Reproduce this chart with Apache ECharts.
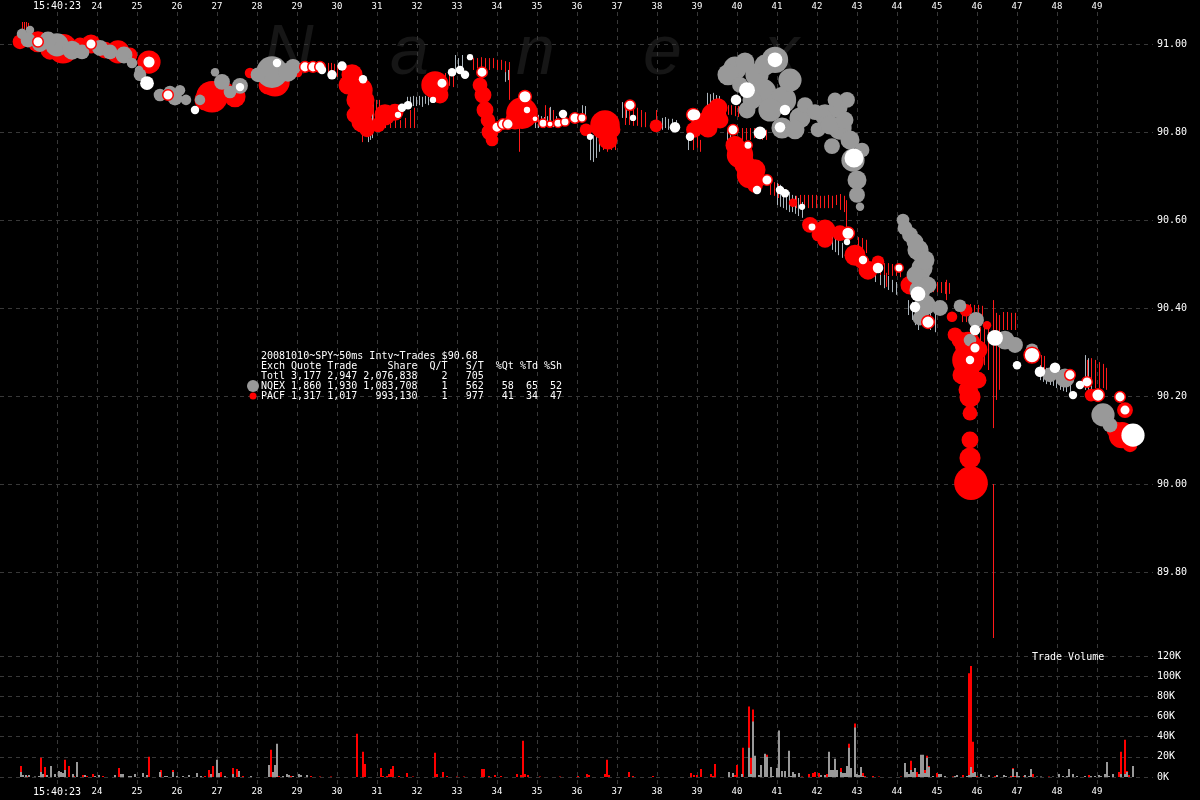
<!DOCTYPE html>
<html><head><meta charset="utf-8">
<script src="https://cdn.jsdelivr.net/npm/echarts@6/dist/echarts.min.js"></script>
<style>html,body{margin:0;padding:0;background:#000}#c{width:1200px;height:800px}</style>
</head><body><div id="c"></div>
<script>
// ---- DATA (time = seconds after 15:40:00, price in $, shares) ----
const timeTicks = [23,24,25,26,27,28,29,30,31,32,33,34,35,36,37,38,39,40,41,42,43,44,45,46,47,48,49];
const priceTicks = [89.80,90.00,90.20,90.40,90.60,90.80,91.00];
const volTicks = [0,20,40,60,80,100,120];
const legendLines = [
  "20081010~SPY~50ms Intv~Trades $90.68",
  "Exch Quote Trade     Share  Q/T   S/T  %Qt %Td %Sh",
  "Totl 3,177 2,947 2,076,838    2   705",
  "NQEX 1,860 1,930 1,083,708    1   562   58  65  52",
  "PACF 1,317 1,017   993,130    1   977   41  34  47"
];
// trades [time, price, shares]
const pacfTrades = [[22.075,91.005,9800],[22.525,91.005,20000],[23.150,90.989,39200],[23.850,91.000,16200],[24.525,90.982,24200],[25.300,90.959,24200],[26.875,90.880,45000],[27.450,90.880,20000],[27.825,90.934,5000],[28.450,90.914,39200],[29.025,90.934,3200],[30.375,90.930,20000],[30.575,90.895,28800],[30.625,90.850,24200],[30.625,90.823,20000],[31.200,90.839,20000],[31.450,90.845,12800],[31.025,90.816,9800],[32.450,90.907,33800],[33.650,90.884,12800],[33.700,90.850,12800],[33.825,90.800,12800],[33.875,90.782,7200],[34.625,90.843,45000],[36.225,90.805,7200],[36.700,90.816,39200],[36.775,90.782,16200],[37.975,90.814,7200],[38.925,90.805,11300],[39.400,90.839,24200],[39.275,90.809,16200],[39.025,90.816,9800],[40.075,90.748,31300],[40.325,90.702,31300],[40.450,90.680,11300],[41.400,90.639,3200],[41.825,90.589,11300],[42.200,90.577,20000],[42.200,90.555,11300],[42.575,90.570,11300],[42.950,90.520,20000],[43.275,90.486,16200],[43.525,90.505,7200],[44.325,90.452,16200],[45.375,90.380,5000],[45.725,90.395,7200],[46.250,90.361,3200],[45.775,90.316,31300],[45.775,90.282,45000],[45.775,90.248,24200],[45.775,90.214,16200],[45.825,90.198,20000],[45.825,90.161,9800],[45.825,90.100,12800],[45.825,90.059,20000],[45.850,90.002,51200],[48.850,90.202,7200],[49.700,90.168,11300],[49.625,90.111,31300],
  [22.825,90.986,16200],[23.575,90.998,9800],[24.200,90.986,12800],[24.825,90.975,9800],[26.700,90.873,20000],[27.200,90.895,12800],[28.275,90.907,16200],[30.500,90.873,20000],[30.750,90.805,9800],[32.575,90.884,12800],[34.450,90.827,16200],[36.875,90.805,12800],[39.575,90.827,12800],[40.200,90.725,20000],[40.575,90.691,7200],[42.025,90.566,7200],[43.125,90.505,9800],[45.575,90.327,12800],[46.025,90.305,16200],[45.625,90.248,16200],[46.025,90.236,12800],[49.450,90.123,12800],[49.825,90.089,9800],[30.275,90.907,16200],[30.700,90.873,16200],[30.450,90.839,12800],[33.575,90.907,9800],[33.775,90.827,9800],[39.950,90.770,16200],[40.450,90.714,20000],[39.525,90.855,16200],[39.150,90.827,9800],[45.450,90.339,9800]];
const nqexTrades = [[22.125,91.023,5000],[22.325,91.032,3200],[22.575,91.000,11300],[23.000,90.998,24200],[23.375,90.986,16200],[24.075,90.991,11300],[24.675,90.975,12800],[24.875,90.957,5000],[25.050,90.941,3200],[25.575,90.884,7200],[25.825,90.891,7200],[26.075,90.895,5000],[26.225,90.873,5000],[26.950,90.936,3200],[27.125,90.914,11300],[27.575,90.905,11300],[28.375,90.936,45000],[28.900,90.948,11300],[39.950,90.945,24200],[40.500,90.930,24200],[40.950,90.964,31300],[40.650,90.891,31300],[41.150,90.873,31300],[41.575,90.832,20000],[41.125,90.809,20000],[40.250,90.850,12800],[42.200,90.839,20000],[42.525,90.855,16200],[42.750,90.873,11300],[42.575,90.809,24200],[42.375,90.768,11300],[42.025,90.805,9800],[42.900,90.736,24200],[43.000,90.691,16200],[43.000,90.657,11300],[43.075,90.630,3200],[44.150,90.600,7200],[44.325,90.566,11300],[44.525,90.532,20000],[44.625,90.491,20000],[44.575,90.441,20000],[44.700,90.407,20000],[44.675,90.464,7200],[45.075,90.400,11300],[45.575,90.405,7200],[45.975,90.373,11300],[45.825,90.327,7200],[46.700,90.327,16200],[46.950,90.316,11300],[47.375,90.305,7200],[47.825,90.248,9800],[48.200,90.241,16200],[49.150,90.157,24200],[49.325,90.134,9800],
  [39.775,90.930,20000],[40.200,90.959,16200],[40.700,90.952,20000],[41.325,90.918,24200],[40.825,90.850,24200],[40.375,90.873,16200],[41.450,90.805,16200],[41.700,90.861,11300],[40.075,90.907,11300],[41.950,90.845,11300],[42.325,90.816,16200],[42.700,90.827,12800],[42.450,90.873,9800],[42.825,90.782,16200],[43.125,90.759,9800],[44.200,90.582,9800],[44.450,90.550,12800],[44.700,90.509,16200],[44.450,90.475,12800],[44.775,90.452,12800],[44.575,90.377,9800],[22.275,91.009,9800],[22.775,91.009,12800],[23.625,90.982,9800],[24.325,90.982,9800],[25.075,90.930,7200],[25.950,90.877,9800],[26.575,90.873,5000],[27.325,90.891,7200],[28.025,90.930,9800],[28.775,90.936,16200]];
const ringTrades = [[22.525,91.005,5000],[23.850,91.000,5000],[25.300,90.959,7200],[25.775,90.884,5000],[29.200,90.948,5000],[29.400,90.948,5000],[29.575,90.948,5000],[32.625,90.911,5000],[33.625,90.936,5000],[34.000,90.811,5000],[34.150,90.818,5000],[34.275,90.818,5000],[34.700,90.880,7200],[34.950,90.830,1800],[35.150,90.820,3200],[35.325,90.818,1800],[35.525,90.820,3200],[35.700,90.823,3200],[35.950,90.832,5000],[36.125,90.832,3200],[37.325,90.861,5000],[38.900,90.839,7200],[39.900,90.805,5000],[40.275,90.770,3200],[40.750,90.691,5000],[41.875,90.584,3200],[42.775,90.570,7200],[44.050,90.491,3200],[45.950,90.309,5000],[47.375,90.293,11300],[48.750,90.232,5000],[49.025,90.202,7200],[49.575,90.198,5000],[49.700,90.168,5000],[44.775,90.368,7200],[48.325,90.248,5000]];
const whiteTrades = [[25.250,90.911,8500],[26.450,90.850,3200],[27.575,90.902,3200],[28.500,90.957,3200],[29.625,90.941,3200],[29.875,90.930,4000],[30.125,90.950,4000],[30.650,90.920,3200],[31.525,90.839,1800],[31.625,90.855,3200],[31.775,90.861,3200],[32.400,90.873,1800],[32.875,90.936,3200],[33.075,90.941,3200],[33.200,90.930,3200],[33.325,90.970,1800],[34.750,90.850,1800],[35.650,90.841,3200],[36.325,90.789,1800],[37.400,90.832,1800],[38.450,90.811,5000],[38.825,90.789,3200],[38.950,90.839,5000],[40.250,90.895,11300],[40.950,90.964,9800],[40.575,90.798,7200],[41.075,90.811,5000],[40.500,90.668,3200],[41.075,90.668,3200],[41.200,90.661,3200],[41.625,90.630,1800],[42.925,90.741,16200],[42.750,90.550,1800],[43.150,90.509,3200],[43.525,90.491,5000],[44.525,90.432,9800],[44.450,90.402,5000],[45.950,90.350,5000],[45.825,90.282,3200],[46.450,90.332,11300],[47.000,90.270,3200],[47.575,90.255,5000],[47.950,90.264,5000],[48.400,90.202,3200],[48.575,90.225,3200],[49.900,90.111,24200],[39.975,90.873,5000],[41.200,90.850,5000]];
// quotes [time, low, high]
const nqexQuotes = [[30.775,90.777,90.866],[30.825,90.782,90.873],[30.875,90.786,90.861],[31.750,90.857,90.880],[31.825,90.857,90.880],[31.900,90.859,90.882],[31.975,90.859,90.880],[32.050,90.861,90.882],[32.125,90.857,90.880],[32.200,90.864,90.882],[32.275,90.861,90.880],[32.950,90.930,90.975],[33.025,90.936,90.968],[33.125,90.941,90.975],[34.200,90.914,90.945],[34.275,90.918,90.941],[34.950,90.809,90.836],[35.025,90.809,90.839],[35.100,90.811,90.836],[35.175,90.809,90.834],[35.250,90.811,90.836],[35.325,90.814,90.857],[35.400,90.811,90.834],[35.475,90.814,90.836],[36.125,90.834,90.861],[36.200,90.832,90.859],[36.325,90.736,90.798],[36.400,90.732,90.793],[36.475,90.741,90.798],[36.550,90.755,90.795],[37.125,90.832,90.868],[37.225,90.832,90.868],[38.125,90.805,90.832],[38.200,90.809,90.834],[38.275,90.805,90.830],[38.375,90.807,90.830],[38.475,90.805,90.827],[38.775,90.759,90.789],[39.250,90.850,90.889],[39.325,90.850,90.886],[39.400,90.855,90.889],[39.475,90.855,90.884],[39.550,90.850,90.882],[39.750,90.777,90.805],[39.825,90.782,90.809],[41.000,90.634,90.684],[41.075,90.630,90.680],[41.150,90.627,90.673],[41.225,90.623,90.668],[41.300,90.618,90.664],[41.375,90.618,90.657],[41.450,90.614,90.655],[41.525,90.609,90.650],[41.625,90.605,90.641],[42.375,90.532,90.566],[42.450,90.527,90.559],[42.525,90.520,90.555],[42.625,90.514,90.548],[42.825,90.505,90.536],[43.075,90.486,90.514],[43.175,90.477,90.505],[43.450,90.459,90.482],[43.575,90.452,90.486],[43.675,90.445,90.477],[43.775,90.441,90.473],[43.875,90.436,90.464],[43.975,90.430,90.459],[44.275,90.384,90.418],[44.375,90.373,90.414],[44.450,90.361,90.407],[44.525,90.350,90.395],[44.825,90.350,90.395],[44.950,90.345,90.391],[47.575,90.236,90.270],[47.650,90.232,90.266],[47.725,90.227,90.264],[47.825,90.225,90.259],[47.900,90.223,90.255],[47.975,90.218,90.252],[48.075,90.214,90.248],[48.150,90.211,90.245],[48.225,90.209,90.241],[48.325,90.202,90.236],[48.700,90.214,90.293],[48.775,90.209,90.286],[48.850,90.205,90.282]];
const pacfQuotes = [[22.125,91.032,91.050],[22.175,91.032,91.050],[22.225,91.032,91.050],[22.275,91.032,91.048],[29.775,90.930,90.957],[29.850,90.927,90.957],[29.925,90.927,90.955],[30.000,90.925,90.952],[30.625,90.777,90.800],[30.825,90.816,90.880],[30.900,90.811,90.877],[30.975,90.816,90.873],[31.050,90.816,90.873],[31.200,90.809,90.832],[31.325,90.809,90.827],[31.450,90.809,90.827],[31.575,90.809,90.827],[31.700,90.809,90.832],[31.825,90.809,90.850],[31.925,90.809,90.855],[32.700,90.907,90.934],[32.800,90.905,90.932],[32.900,90.902,90.930],[33.400,90.941,90.968],[33.500,90.945,90.968],[33.600,90.945,90.970],[33.700,90.941,90.968],[33.800,90.941,90.968],[33.900,90.945,90.968],[34.000,90.941,90.964],[34.100,90.941,90.964],[34.200,90.936,90.961],[34.300,90.873,90.959],[34.550,90.755,90.809],[35.200,90.816,90.861],[35.300,90.816,90.855],[35.400,90.820,90.850],[36.650,90.759,90.805],[36.750,90.755,90.805],[36.850,90.759,90.805],[36.950,90.759,90.800],[37.200,90.816,90.861],[37.300,90.816,90.859],[37.400,90.814,90.855],[37.500,90.814,90.855],[37.600,90.811,90.850],[37.700,90.811,90.845],[37.975,90.805,90.850],[38.900,90.759,90.805],[39.000,90.764,90.805],[39.075,90.755,90.782],[39.700,90.839,90.861],[39.775,90.839,90.861],[39.850,90.839,90.861],[39.950,90.836,90.859],[40.025,90.834,90.859],[40.125,90.782,90.809],[40.225,90.782,90.809],[40.325,90.782,90.809],[40.425,90.786,90.809],[40.525,90.786,90.805],[40.625,90.782,90.805],[40.725,90.782,90.805],[40.825,90.657,90.691],[40.925,90.655,90.686],[41.025,90.650,90.682],[41.475,90.627,90.655],[41.575,90.627,90.657],[41.675,90.627,90.657],[41.775,90.627,90.657],[41.875,90.627,90.657],[41.975,90.627,90.657],[42.075,90.627,90.655],[42.175,90.627,90.655],[42.275,90.627,90.657],[42.375,90.627,90.655],[42.475,90.634,90.657],[42.575,90.623,90.659],[42.675,90.618,90.655],[42.725,90.582,90.645],[43.025,90.527,90.561],[43.125,90.527,90.559],[43.225,90.525,90.555],[43.575,90.475,90.502],[43.675,90.475,90.502],[43.725,90.448,90.480],[43.775,90.475,90.502],[43.875,90.473,90.500],[43.975,90.473,90.500],[44.075,90.470,90.498],[44.700,90.436,90.464],[44.800,90.436,90.464],[44.900,90.436,90.464],[45.000,90.436,90.459],[45.100,90.434,90.459],[45.200,90.432,90.459],[45.225,90.418,90.464],[45.300,90.432,90.457],[45.625,90.368,90.411],[45.725,90.368,90.409],[45.825,90.373,90.409],[45.925,90.373,90.407],[46.025,90.373,90.407],[46.125,90.368,90.405],[46.075,90.282,90.357],[46.175,90.270,90.357],[46.275,90.259,90.355],[46.400,90.127,90.418],[46.400,89.650,90.000],[46.475,90.191,90.389],[46.550,90.214,90.384],[46.650,90.350,90.391],[46.750,90.350,90.391],[46.850,90.350,90.389],[46.950,90.350,90.389],[47.600,90.259,90.293],[47.675,90.255,90.291],[48.750,90.225,90.282],[48.850,90.223,90.286],[48.950,90.218,90.282],[49.050,90.218,90.277],[49.150,90.218,90.273],[49.225,90.214,90.264]];
// volume [time, thousands of shares]
const pacfVolume = [[22.100,11],[22.250,1],[22.600,19],[22.700,10],[23.200,17],[23.300,11],[23.425,1],[23.650,2],[23.750,1],[23.900,3],[24.150,1],[24.550,9],[25.300,20],[25.600,7],[25.900,7],[26.700,1],[26.800,7],[26.900,11],[27.000,1],[27.100,5],[27.400,9],[27.500,8],[27.650,1],[28.350,27],[28.550,1],[28.850,1],[29.350,1],[29.575,0.5],[29.850,0.5],[30.500,43],[30.650,25],[30.700,13],[31.100,9],[31.150,1],[31.250,1],[31.300,3],[31.350,8],[31.400,11],[31.550,1],[31.750,4],[31.900,0.5],[32.450,24],[32.500,3],[32.650,5],[32.750,1],[33.000,0.5],[33.175,0.5],[33.625,8],[33.675,8],[33.800,1],[33.950,2],[34.100,1],[34.500,3],[34.600,2],[34.650,36],[34.700,3],[34.775,2],[35.075,0.5],[35.575,0.5],[36.025,1],[36.250,3],[36.300,2],[36.700,3],[36.750,17],[36.800,2],[37.300,5],[37.400,1],[37.900,1],[38.850,4],[38.925,2],[39.000,2],[39.100,8],[39.350,3],[39.400,1],[39.450,13],[39.950,2],[40.000,12],[40.150,29],[40.300,70],[40.350,19],[40.400,67],[40.550,2],[40.600,5],[40.750,22],[41.625,0.5],[41.800,3],[41.900,4],[41.950,5],[42.050,4],[42.250,3],[42.600,9],[42.800,33],[42.950,53],[43.150,4],[43.200,1],[43.400,1],[43.550,0.5],[44.100,0.5],[44.350,16],[44.500,5],[44.700,7],[44.750,21],[44.800,11],[45.000,4],[45.400,0.5],[45.650,2],[45.800,103],[45.850,110],[45.900,35],[46.000,1],[46.450,1],[46.850,1],[46.900,9],[46.950,1],[47.175,1],[47.400,3],[47.800,0.5],[48.800,2],[49.550,5],[49.600,25],[49.700,37],[49.750,6],[49.800,2]];
const nqexVolume = [[22.100,5],[22.150,2],[22.225,2],[22.300,2],[22.450,0.5],[22.550,1],[22.600,5],[22.650,3],[22.750,2],[22.850,11],[22.950,3],[23.050,6],[23.100,5],[23.150,4],[23.200,7],[23.400,3],[23.500,15],[23.700,2],[23.950,1],[24.050,2],[24.450,2],[24.600,3],[24.650,3],[24.800,1],[24.850,1],[24.950,3],[25.150,4],[25.250,2],[25.575,5],[25.700,1],[25.750,1],[25.900,5],[26.000,1],[26.150,1],[26.300,2],[26.500,4],[26.600,1],[26.850,3],[27.000,17],[27.050,4],[27.200,1],[27.400,3],[27.550,6],[27.850,1],[28.300,12],[28.400,5],[28.450,12],[28.500,33],[28.650,1],[28.750,3],[28.800,2],[28.900,1],[29.050,3],[29.100,2],[29.250,2],[39.800,5],[39.900,4],[40.125,3],[40.300,29],[40.350,3],[40.400,55],[40.450,21],[40.550,2],[40.600,12],[40.700,23],[40.750,20],[40.850,10],[40.900,1],[41.000,9],[41.050,46],[41.125,6],[41.200,6],[41.300,26],[41.350,1],[41.400,5],[41.450,3],[41.550,4],[42.100,2],[42.200,2],[42.300,25],[42.350,7],[42.400,7],[42.450,18],[42.500,7],[42.600,5],[42.650,4],[42.700,4],[42.750,11],[42.800,29],[42.850,9],[42.950,49],[43.000,3],[43.050,2],[43.100,10],[43.150,1],[44.200,14],[44.250,5],[44.300,3],[44.350,7],[44.400,5],[44.450,9],[44.550,3],[44.600,22],[44.650,22],[44.700,4],[44.750,19],[44.800,10],[44.900,1],[45.050,3],[45.100,3],[45.200,1],[45.450,1],[45.500,2],[45.750,1],[45.800,2],[45.850,10],[45.900,4],[45.950,5],[46.100,3],[46.150,0.5],[46.300,2],[46.500,2],[46.675,2],[46.725,1],[46.900,8],[47.000,5],[47.050,1],[47.200,2],[47.300,1],[47.350,8],[47.500,0.5],[47.600,0.5],[47.900,0.5],[48.050,3],[48.150,1],[48.250,1],[48.300,8],[48.400,3],[48.500,1],[48.700,1],[48.850,1],[48.950,1],[49.050,2],[49.100,1],[49.200,3],[49.250,15],[49.300,1],[49.400,3],[49.600,3],[49.700,3],[49.750,5],[49.900,11]];

// ---- CHART ----
const MONO = '"DejaVu Sans Mono", monospace';
const GRID = {color:'#383838', type:[4,4], width:1};
const chart = echarts.init(document.getElementById('c'), null, {renderer:'canvas'});

function quoteSeries(data, color){
  return {type:'custom', xAxisIndex:2, yAxisIndex:1, silent:true, data, encode:{x:0, y:[1,2]}, z:1,
    renderItem(params, api){
      const a = api.coord([api.value(0), api.value(1)]);
      const b = api.coord([api.value(0), api.value(2)]);
      const x = Math.round(a[0]) + 0.5;
      return {type:'line', shape:{x1:x, y1:a[1], x2:x, y2:b[1]}, style:{stroke:color, lineWidth:1}};
    }};
}
function tradeSeries(data, color, border, z){
  return {type:'scatter', xAxisIndex:2, yAxisIndex:1, silent:true, data, z, clip:false,
    symbolSize: v => Math.sqrt(v[2] / 45),
    itemStyle:{color, borderColor: border || color, borderWidth: border ? 1.5 : 0, opacity:1}};
}
const tMin = 21.575, tMax = 50.4;
const fmtTime = v => v === timeTicks[0] ? '{a|15:40:' + v + '}' : (timeTicks.includes(v) ? '{b|' + v + '}' : '');
const timeRich = {a:{color:'#fff', fontSize:10, fontFamily:MONO}, b:{color:'#fff', fontSize:9, fontFamily:MONO}};

const graphics = [];
['N','a','n','e','x'].forEach((ch, i) => {
  graphics.push({type:'text', z:-10, x:[263,390,516,643,764][i], y:55,
    style:{text:ch, fill:'#161616', font:'italic 70px "Liberation Sans", Arial, sans-serif', verticalAlign:'middle'}});
});
legendLines.forEach((ln, i) => {
  graphics.push({type:'text', z:100, x:261, y:356 + i*10,
    style:{text:ln, fill:'#fff', font:'10px ' + MONO, verticalAlign:'middle'}});
});
graphics.push({type:'circle', z:100, shape:{cx:253, cy:386, r:6}, style:{fill:'#999'}});
graphics.push({type:'circle', z:100, shape:{cx:253, cy:396, r:3.5}, style:{fill:'#f00'}});
graphics.push({type:'text', z:100, x:1032, y:657, style:{text:'Trade Volume', fill:'#fff', font:'10px ' + MONO, verticalAlign:'middle'}});

chart.setOption({
  backgroundColor:'#000',
  animation:false,
  grid:[
    {left:57, right:83, top:12, bottom:13},
    {left:0, right:47, top:8.8, height:651.2},
    {left:0, right:47, top:656, height:121}
  ],
  xAxis:[
    {gridIndex:0, type:'value', position:'top', min:23, max:49.5, interval:1,
      axisLine:{show:false}, axisTick:{show:false},
      splitLine:{show:true, showMaxLine:false, lineStyle:GRID},
      axisLabel:{margin:1, formatter:fmtTime, rich:timeRich, showMaxLabel:false}},
    {gridIndex:0, type:'value', position:'bottom', min:23, max:49.5, interval:1,
      axisLine:{show:false}, axisTick:{show:false}, splitLine:{show:false},
      axisLabel:{margin:0, formatter:fmtTime, rich:timeRich, showMaxLabel:false}},
    {gridIndex:1, type:'value', min:tMin, max:tMax, show:false},
    {gridIndex:2, type:'value', min:tMin, max:tMax, show:false}
  ],
  yAxis:[
    {gridIndex:0, type:'value', min:0, max:1, show:false},
    {gridIndex:1, type:'value', position:'right', min:89.6, max:91.08, interval:0.2,
      axisLine:{show:false}, axisTick:{show:false},
      splitLine:{show:true, showMinLine:false, showMaxLine:false, lineStyle:GRID},
      axisLabel:{margin:4, color:'#fff', fontSize:10, fontFamily:MONO, showMinLabel:false, showMaxLabel:false,
        formatter: v => priceTicks.some(p => Math.abs(p - v) < 1e-6) ? v.toFixed(2) : ''}},
    {gridIndex:2, type:'value', position:'right', min:volTicks[0], max:volTicks[volTicks.length-1], interval:20,
      axisLine:{show:false}, axisTick:{show:false},
      splitLine:{show:true, lineStyle:GRID},
      axisLabel:{margin:4, color:'#fff', fontSize:10, fontFamily:MONO, formatter: v => v + 'K'}}
  ],
  series:[
    {type:'line', xAxisIndex:0, yAxisIndex:0, data:[], silent:true},
    quoteSeries(nqexQuotes, '#aab4bc'),
    quoteSeries(pacfQuotes, '#ff1a1a'),
    tradeSeries(pacfTrades, '#ff0000', null, 3),
    tradeSeries(nqexTrades, '#999999', null, 4),
    tradeSeries(ringTrades, '#ffffff', '#ff0000', 5),
    tradeSeries(whiteTrades, '#ffffff', null, 6),
    {type:'bar', xAxisIndex:3, yAxisIndex:2, data:pacfVolume, barWidth:2, barGap:'-100%', silent:true, itemStyle:{color:'#ff0000'}},
    {type:'bar', xAxisIndex:3, yAxisIndex:2, data:nqexVolume, barWidth:2, barGap:'-100%', silent:true, itemStyle:{color:'#999999'}}
  ],
  graphic:graphics
});
</script></body></html>
